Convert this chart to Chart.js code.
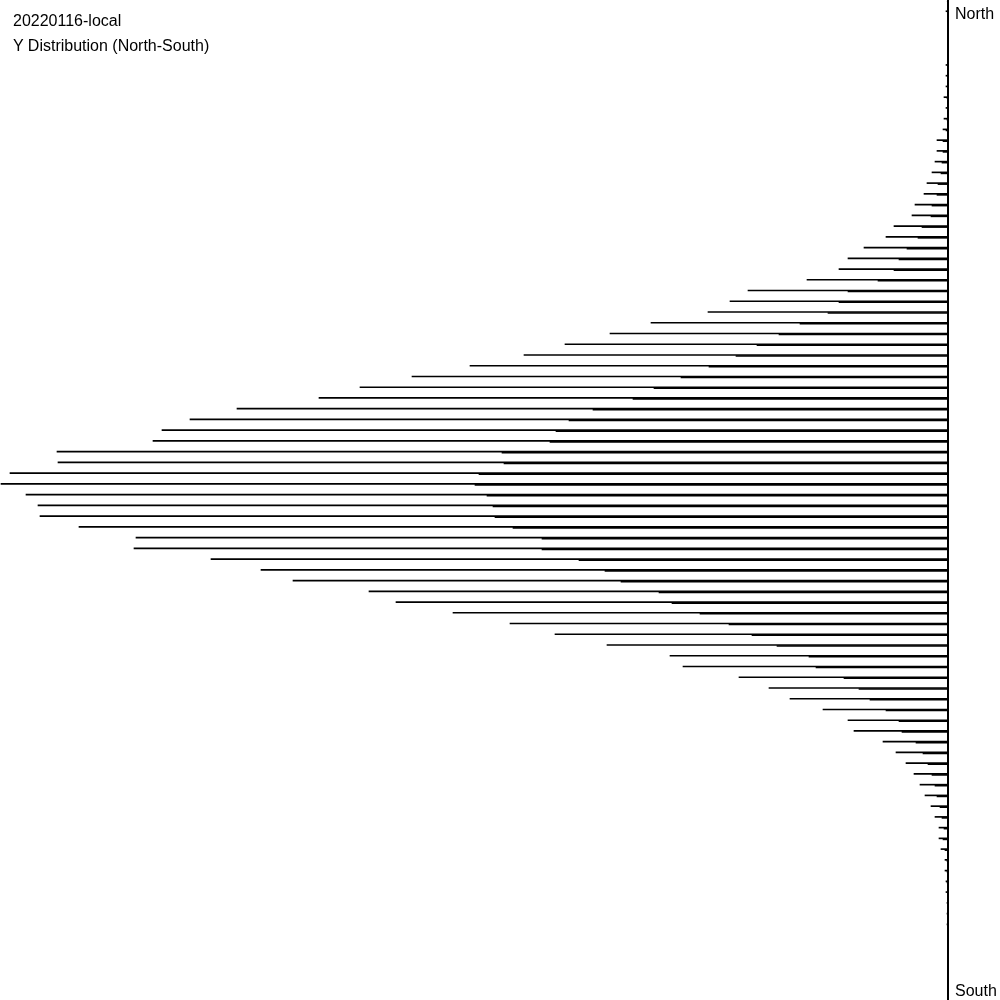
<!DOCTYPE html>
<html>
<head>
<meta charset="utf-8">
<script src="https://cdn.jsdelivr.net/npm/chart.js@4/dist/chart.umd.min.js"></script>
<style>
  html, body { margin: 0; padding: 0; background: #fff; overflow: hidden; }
  #wrap { position: absolute; left: 0; top: 0; width: 1000px; height: 1000px; }
  .txt { position: absolute; font-family: Arial, "Liberation Sans", sans-serif; font-size: 16px; line-height: 16px; color: #000; white-space: nowrap; }
</style>
</head>
<body>
<div id="wrap"><canvas id="canvas"></canvas></div>
<div class="txt" style="left:13px; top:13px;">20220116-local</div>
<div class="txt" style="left:13px; top:38px;">Y Distribution (North-South)</div>
<div class="txt" style="left:955px; top:6px;">North</div>
<div class="txt" style="left:955px; top:983px;">South</div>
<script>
// y bins, north (top) to south (bottom); the last bin is only the bottom edge
const bins = [];
for (let i = 0; i < 94; i++) bins.push(String(i));

// longer line of each bin
const countA = [
  1, 2, 0, 0, 0, 0, 2, 2, 2, 4,
  2, 4, 5, 11, 11, 13, 16, 21, 24, 33,
  36, 54, 62, 84, 100, 109, 141, 200, 218, 240,
  297, 338, 383, 424, 478, 536, 588, 629, 711, 758,
  786, 795, 891, 890, 938, 947, 922, 910, 908, 869,
  812, 814, 737, 687, 655, 579, 552, 495, 438, 393,
  341, 278, 265, 209, 179, 158, 125, 100, 94, 65,
  52, 42, 34, 28, 23, 17, 13, 9, 9, 7,
  3, 3, 2, 2, 1, 1, 1, 0, 0, 0,
  0, 0, 0, 0
];

// shorter line of each bin
const countB = [
  0, 0, 0, 0, 0, 0, 0, 0, 0, 1,
  0, 1, 2, 5, 5, 6, 7, 10, 11, 16,
  17, 26, 30, 41, 49, 54, 70, 100, 109, 120,
  148, 169, 191, 212, 239, 267, 294, 315, 355, 379,
  392, 398, 446, 444, 469, 473, 461, 455, 453, 435,
  406, 406, 369, 343, 327, 289, 276, 248, 219, 196,
  171, 139, 132, 104, 89, 78, 62, 49, 46, 32,
  25, 20, 16, 13, 11, 8, 6, 4, 5, 3,
  1, 1, 1, 0, 0, 0, 0, 0, 0, 0,
  0, 0, 0, 0
];

const ctx = document.getElementById('canvas');

const data = {
  labels: bins,
  datasets: [{
    label: 'A',
    data: countA,
    backgroundColor: '#000',
    borderWidth: 0,
    barThickness: 1
  }, {
    label: 'B',
    data: countB,
    backgroundColor: '#000',
    borderWidth: 0,
    barThickness: 1
  }]
};

const config = {
  type: 'bar',
  data: data,
  options: {
    indexAxis: 'y',
    responsive: true,
    maintainAspectRatio: false,
    animation: false,
    layout: {
      padding: { top: 1, right: 52, bottom: 0, left: 0 }
    },
    plugins: {
      legend: { display: false },
      tooltip: { enabled: false }
    },
    scales: {
      x: {
        type: 'linear',
        reverse: true,
        min: 0,
        max: 948,
        display: false
      },
      y: {
        position: 'right',
        offset: false,
        grid: { display: false },
        ticks: { display: false },
        border: { display: true, color: '#000', width: 2 },
        afterFit: (scale) => { scale.width = 0; }
      }
    }
  }
};

new Chart(ctx, config);
</script>
</body>
</html>
